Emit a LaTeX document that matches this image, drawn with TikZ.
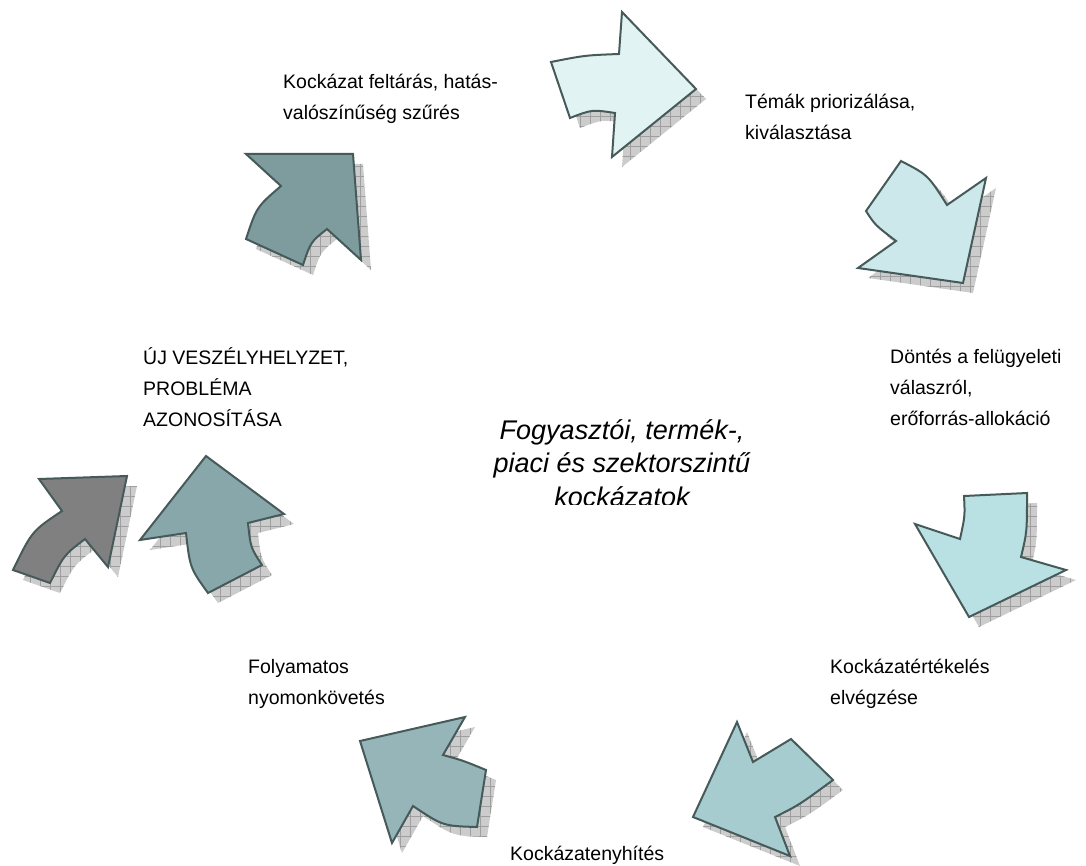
\documentclass[tikz,border=0pt]{standalone}
\usepackage{fontspec}
\setmainfont{Liberation Sans}
\usetikzlibrary{patterns.meta}
\definecolor{edge}{HTML}{465A5A}
\definecolor{cA}{HTML}{E2F3F3}
\definecolor{cB}{HTML}{CDE8EA}
\definecolor{cC}{HTML}{B9E0E3}
\definecolor{cD}{HTML}{A7CCCF}
\definecolor{cE}{HTML}{95B5B8}
\definecolor{cF}{HTML}{88A7AA}
\definecolor{cG}{HTML}{808080}
\definecolor{cH}{HTML}{7E9C9D}
\newcommand{\arrA}{(551,62) .. controls (585,55.3) .. (619,54) -- (622,12) -- (696,89) -- (612,157) -- (615,113) .. controls (592,109.5) .. (570,118) -- cycle}
\newcommand{\arrB}{(901,161) .. controls (928,175) .. (947,205) -- (986,178) -- (963,283) -- (858,268) -- (896,241) .. controls (875,225) .. (866,211) -- cycle}
\newcommand{\arrC}{(964,496) -- (1027,493) .. controls (1027,532) .. (1021,557) -- (1066,570) -- (969,617) -- (915,524) -- (960,539) .. controls (965,516) .. cycle}
\newcommand{\arrD}{(737,722) -- (753,762) -- (791,739) -- (833,780) .. controls (799,805) .. (775,817) -- (790,856) -- (693,817) -- cycle}
\newcommand{\arrE}{(465,717) -- (443,755) .. controls (463,760.5) .. (486,770) -- (477,827) .. controls (443,826) .. (413,806) -- (392,843) -- (360,741) -- cycle}
\newcommand{\arrF}{(206,456) -- (284,514) -- (248,523) .. controls (250.6,547.6) .. (262,565) -- (208,593) .. controls (190,568) .. (186,533) -- (140,540) -- cycle}
\newcommand{\arrG}{(39,479) -- (127,476) -- (108,567) -- (85,539) .. controls (64,555) .. (50,583) -- (13,570) .. controls (32,531) .. (62,511) -- cycle}
\newcommand{\arrH}{(246,154) -- (353,154) -- (361,260) -- (327,229) .. controls (310.6,242) .. (303,265) -- (246,239) .. controls (256.6,207) .. (281,186) -- cycle}
\begin{document}
\begin{tikzpicture}[x=1pt,y=-1pt,
  shadowshape/.style={fill=gray!40, shift={(10,10)},
    postaction={pattern={Hatch[distance=10pt,angle=0,line width=0.5pt]}, pattern color=gray!75}},
  arrowshape/.style={draw=edge, line width=2pt, line join=miter},
  lbl/.style={font=\fontsize{19.5}{31}\selectfont, align=left, anchor=base west, inner sep=0pt},
  centertext/.style={font=\fontsize{27}{33.5}\selectfont\itshape, align=center, anchor=base, inner sep=0pt}]
\path[use as bounding box] (0,0) rectangle (1086,866);
% shadows
\path[shadowshape] \arrA;
\path[shadowshape] \arrB;
\path[shadowshape] \arrC;
\path[shadowshape] \arrD;
\path[shadowshape] \arrE;
\path[shadowshape] \arrF;
\path[shadowshape] \arrG;
\path[shadowshape] \arrH;
% arrows
\path[arrowshape, fill=cA] \arrA;
\path[arrowshape, fill=cB] \arrB;
\path[arrowshape, fill=cC] \arrC;
\path[arrowshape, fill=cD] \arrD;
\path[arrowshape, fill=cE] \arrE;
\path[arrowshape, fill=cF] \arrF;
\path[arrowshape, fill=cG] \arrG;
\path[arrowshape, fill=cH] \arrH;
% labels (anchor = baseline of the last line)
\node[lbl] (feltaras) at (283,120) {Kockázat feltárás, hatás-\\valószínűség szűrés};
\node[lbl] (temak) at (745,140) {Témák priorizálása,\\kiválasztása};
\node[lbl] (dontes) at (890,425) {Döntés a felügyeleti\\válaszról,\\erőforrás-allokáció};
\node[lbl] (uj) at (143,426) {ÚJ VESZÉLYHELYZET,\\PROBLÉMA\\AZONOSÍTÁSA};
\node[lbl] (ertekeles) at (830,704) {Kockázatértékelés\\elvégzése};
\node[lbl] (kovetes) at (248,704) {Folyamatos\\nyomonkövetés};
\node[lbl] (enyhites) at (510,860) {Kockázatenyhítés};
\begin{scope}
\clip (400,380) rectangle (850,504);
\node[centertext] (kozep) at (622,506) {Fogyasztói, termék-,\\piaci és szektorszintű\\kockázatok};
\end{scope}
\end{tikzpicture}
\end{document}
